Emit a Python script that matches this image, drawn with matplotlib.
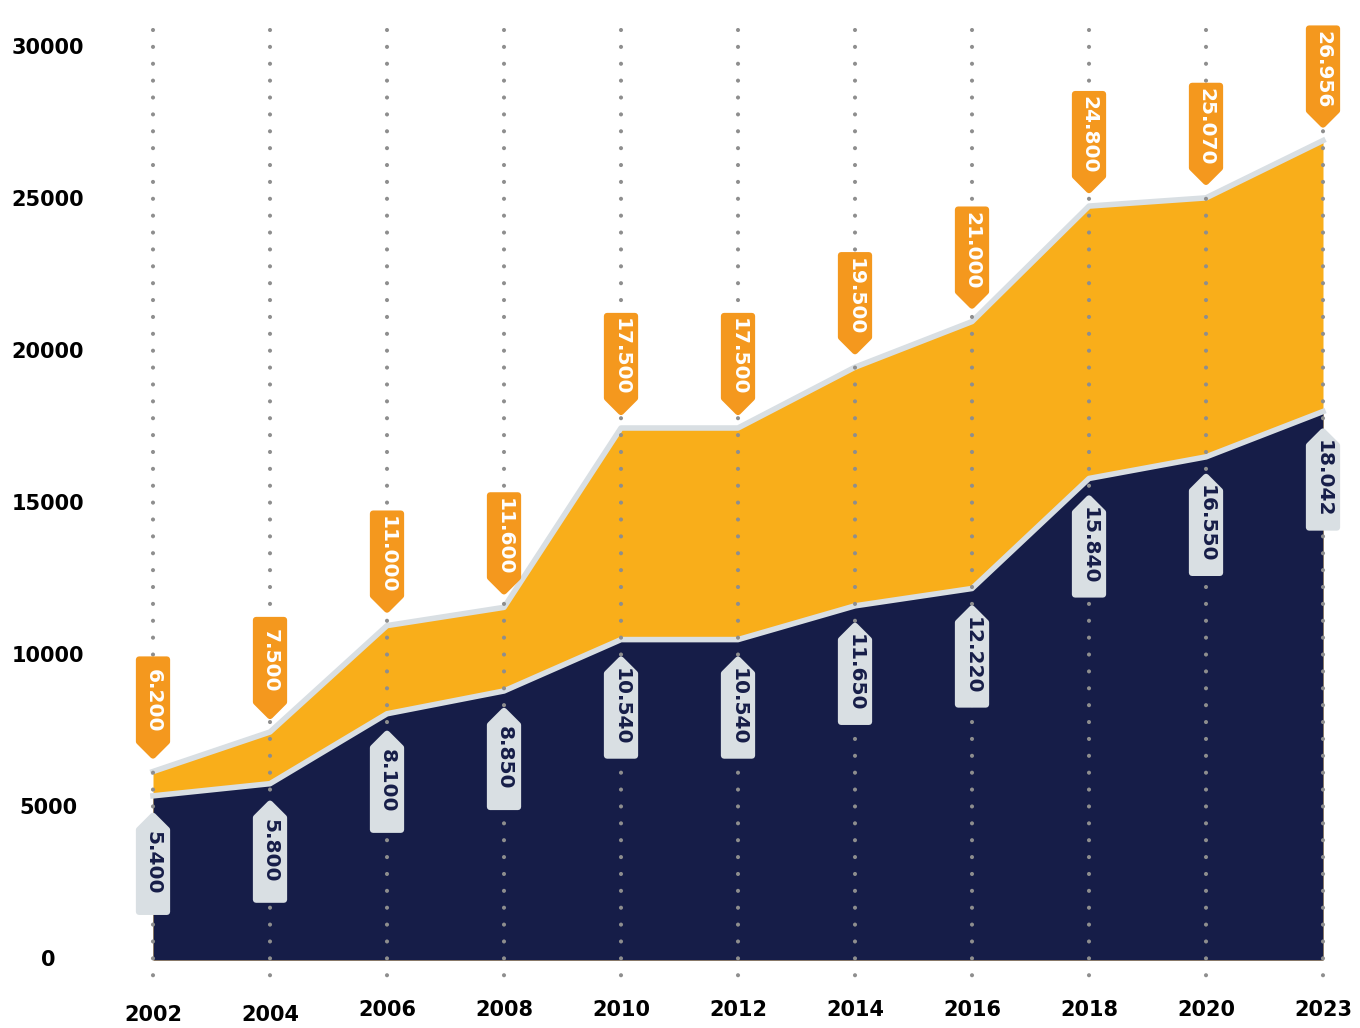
import matplotlib.pyplot as plt
import matplotlib.transforms as mtransforms
from matplotlib.patches import Polygon

# -------------------------------
# Data
# -------------------------------
years = ["2002", "2004", "2006", "2008", "2010", "2012",
         "2014", "2016", "2018", "2020", "2023"]
total_vals = [6200, 7500, 11000, 11600, 17500, 17500,
              19500, 21000, 24800, 25070, 26956]
base_vals = [5400, 5800, 8100, 8850, 10540, 10540,
             11650, 12220, 15840, 16550, 18042]
y_ticks = [0, 5000, 10000, 15000, 20000, 25000, 30000]

# colours
navy = "#161d48"
orange_fill = "#f9ae1a"
orange_tag = "#f4981e"
edge_gray = "#d9dfe3"
dot_gray = "#8e8e8e"

plt.rcParams["font.family"] = "DejaVu Sans"

fig = plt.figure(figsize=(13.6, 10.28), dpi=100)
ax = fig.add_axes([153 / 1360, 1 - 960 / 1028,
                   (1323 - 153) / 1360, (960 - 48) / 1028])

x = list(range(len(years)))
ax.set_xlim(0, len(years) - 1)
ax.set_ylim(0, 30000)
ax.axis("off")

# -------------------------------
# Areas
# -------------------------------
ax.fill_between(x, 0, total_vals, color=orange_fill, lw=0, zorder=1)
ax.plot(x, total_vals, color=edge_gray, lw=4, zorder=2, clip_on=False)
ax.fill_between(x, 0, base_vals, color=navy, lw=0, zorder=2.1)
ax.plot(x, base_vals, color=edge_gray, lw=4, zorder=2.2, clip_on=False)

# dotted verticals
for i in x:
    ax.plot([i, i], [30600, -920], color=dot_gray, lw=3.0,
            linestyle=(0, (0.001, 4.05)), dash_capstyle="round",
            clip_on=False, zorder=3)


# -------------------------------
# Value tags
# -------------------------------
def fmt(v):
    return f"{v:,}".replace(",", ".")


def draw_tag(xi, yv, text, above, fc, tc):
    g = 16 if above else 20
    if above:
        verts = [(0, g), (-14, g + 14), (-14, g + 96), (14, g + 96), (14, g + 14)]
        ty = g + 55
    else:
        verts = [(0, -g), (-14, -g - 14), (-14, -g - 96), (14, -g - 96), (14, -g - 14)]
        ty = -g - 47
    tr = (mtransforms.Affine2D().scale(0.01) + fig.dpi_scale_trans
          + mtransforms.ScaledTranslation(xi, yv, ax.transData))
    poly = Polygon(verts, closed=True, transform=tr, facecolor=fc,
                   edgecolor=fc, lw=4.5, joinstyle="round",
                   clip_on=False, zorder=4)
    ax.add_patch(poly)
    ax.annotate(text, xy=(xi, yv), xytext=(0, ty * 0.72),
                textcoords="offset points", rotation=-90,
                ha="center", va="center", fontsize=14.5,
                fontweight="bold", color=tc, zorder=5,
                annotation_clip=False)


for i in x:
    draw_tag(i, total_vals[i], fmt(total_vals[i]), True, orange_tag, "white")
    draw_tag(i, base_vals[i], fmt(base_vals[i]), False, edge_gray, navy)

# -------------------------------
# Axis labels
# -------------------------------
ylab_tr = mtransforms.blended_transform_factory(fig.transFigure, ax.transData)
for v in y_ticks:
    ax.text(48 / 1360, v, str(v), transform=ylab_tr, ha="center",
            va="center", fontsize=15, fontweight="bold", color="black")

for i, yr in enumerate(years):
    yl = -1800 if i < 2 else -1650
    ax.text(i, yl, yr, ha="center", va="center", fontsize=15,
            fontweight="bold", color="black", clip_on=False)

plt.savefig("out.png", dpi=100)
